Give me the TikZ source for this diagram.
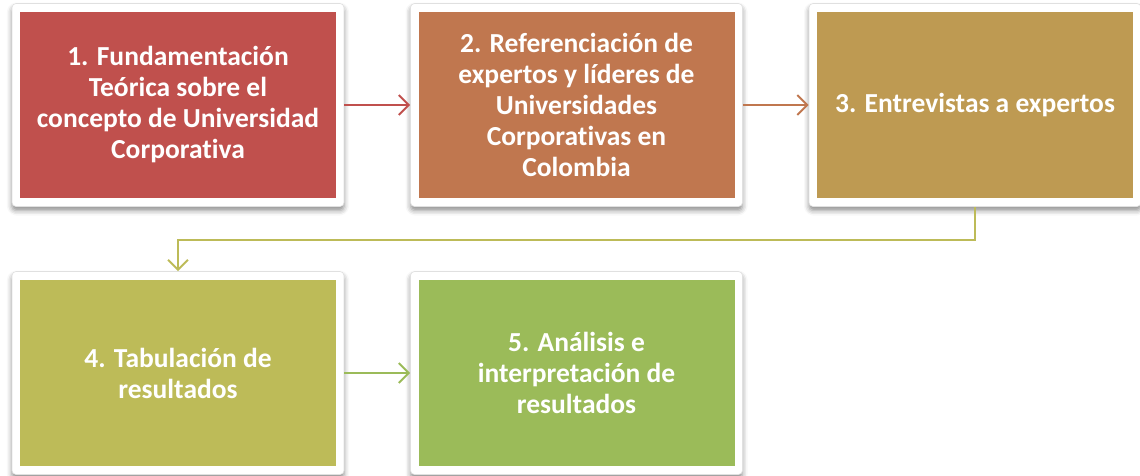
\documentclass[tikz,border=0pt]{standalone}
\usepackage{fontspec}
\setmainfont{Carlito}[Ligatures=NoCommon, BoldFont={Carlito Bold}]
\usetikzlibrary{arrows.meta,shadows.blur}
\definecolor{cA}{HTML}{C0504D}
\definecolor{cB}{HTML}{C0774F}
\definecolor{cC}{HTML}{BE9A52}
\definecolor{cD}{HTML}{BDBB58}
\definecolor{cE}{HTML}{9BBB59}
\tikzset{
  frame/.style={draw=white!88!black, line width=0.6pt, fill=white, rounded corners=4pt,
    minimum width=332pt, minimum height=203pt, inner sep=0pt,
    blur shadow={shadow xshift=0pt, shadow yshift=-4pt, shadow blur radius=5pt, shadow opacity=45}},
  inbox/.style={minimum width=316pt, minimum height=186pt, inner sep=0pt, text=white,
    font=\bfseries\fontsize{27.5}{31}\selectfont, align=center},
  conn/.style={line width=2pt, -{Straight Barb[length=10pt,width=20pt,line width=2pt]}}
}
\begin{document}
\begin{tikzpicture}[x=1pt,y=-1pt]
\useasboundingbox (0,0) rectangle (1140,475);
\node[frame] (f1) at (178,105) {};
\node[inbox, fill=cA] (b1) at (f1) {1. Fundamentación\\Teórica sobre el\\concepto de Universidad\\Corporativa};
\node[frame] (f2) at (576.5,105) {};
\node[inbox, fill=cB] (b2) at (f2) {2. Referenciación de\\expertos y líderes de\\Universidades\\Corporativas en\\Colombia};
\node[frame] (f3) at (975,105) {};
\node[inbox, fill=cC] (b3) at (f3) {3. Entrevistas a expertos};
\node[frame] (f4) at (178,373) {};
\node[inbox, fill=cD] (b4) at (f4) {4. Tabulación de\\resultados};
\node[frame] (f5) at (576.5,373) {};
\node[inbox, fill=cE] (b5) at (f5) {5. Análisis e\\interpretación de\\resultados};
\draw[conn, draw=cA] (f1.east) -- (f2.west);
\draw[conn, draw=cB] (f2.east) -- (f3.west);
\draw[conn, draw=cD] (f3.south) -- ++(0,33) -| (f4.north);
\draw[conn, draw=cE] (f4.east) -- (f5.west);
\end{tikzpicture}
\end{document}
